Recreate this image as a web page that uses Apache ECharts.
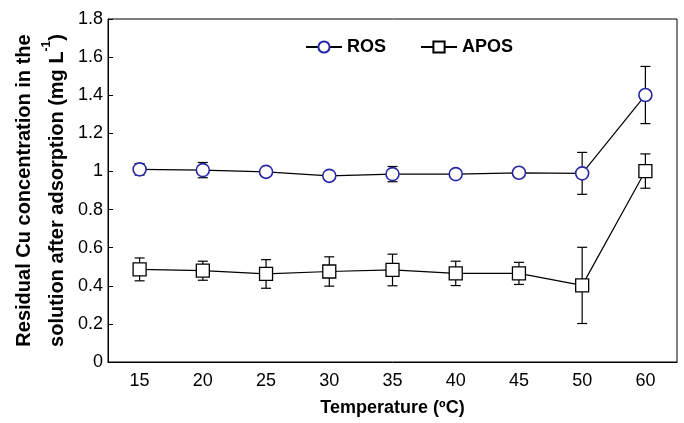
<!DOCTYPE html>
<html>
<head>
<meta charset="utf-8">
<script src="https://cdn.jsdelivr.net/npm/echarts@6/dist/echarts.min.js"></script>
<style>html,body{margin:0;padding:0;background:#fff}#c{width:684px;height:423px}</style>
</head>
<body>
<div id="c"></div>
<script>
const categories = ['15', '20', '25', '30', '35', '40', '45', '50', '60'];
const rosValues = [1.011, 1.007, 0.998, 0.977, 0.986, 0.986, 0.993, 0.99, 1.401];
const rosErrors = [0.03, 0.04, 0.02, 0.01, 0.04, 0.02, 0.02, 0.11, 0.15];
const aposValues = [0.486, 0.479, 0.462, 0.475, 0.483, 0.465, 0.465, 0.402, 1.002];
const aposErrors = [0.06, 0.05, 0.075, 0.077, 0.083, 0.064, 0.058, 0.2, 0.09];
const yTicks = { min: 0, max: 1.8, interval: 0.2 };

const FONT = 'Liberation Sans, Arial, sans-serif';

function errData(vals, errs) {
  return vals.map((v, i) => [i, v - errs[i], v + errs[i]]);
}
function errRender(params, api) {
  const i = api.value(0);
  const lo = api.coord([i, api.value(1)]);
  const hi = api.coord([i, api.value(2)]);
  const w = 5;
  const style = { stroke: '#000', lineWidth: 1.2 };
  return {
    type: 'group',
    children: [
      { type: 'line', shape: { x1: lo[0], y1: lo[1], x2: hi[0], y2: hi[1] }, style },
      { type: 'line', shape: { x1: lo[0] - w, y1: lo[1], x2: lo[0] + w, y2: lo[1] }, style },
      { type: 'line', shape: { x1: hi[0] - w, y1: hi[1], x2: hi[0] + w, y2: hi[1] }, style }
    ]
  };
}

const chart = echarts.init(document.getElementById('c'));
chart.setOption({
  animation: false,
  backgroundColor: '#fff',
  grid: { left: 108, right: 7, top: 19, bottom: 61, show: true, borderColor: '#000', borderWidth: 1, backgroundColor: 'transparent' },
  legend: {
    left: 300, top: 33,
    itemWidth: 36, itemHeight: 14, itemGap: 34,
    data: ['ROS', 'APOS'],
    textStyle: { fontFamily: FONT, fontSize: 18, fontWeight: 'bold', color: '#000' }
  },
  xAxis: {
    type: 'category',
    data: categories,
    boundaryGap: true,
    name: 'Temperature (ºC)',
    nameLocation: 'middle',
    nameGap: 37,
    nameTextStyle: { fontFamily: FONT, fontSize: 18, fontWeight: 'bold', color: '#000' },
    axisLine: { lineStyle: { color: '#000', width: 1 } },
    axisTick: { inside: true, length: 6, interval: 0, lineStyle: { color: '#000' } },
    axisLabel: { fontFamily: FONT, fontSize: 18, color: '#000', margin: 10, interval: 0 },
    splitLine: { show: false }
  },
  yAxis: {
    type: 'value',
    min: yTicks.min, max: yTicks.max, interval: yTicks.interval,
    name: '{a|Residual Cu concentration in the}\n{a|solution after adsorption (mg L}{s|-1}{a|)}',
    nameLocation: 'middle',
    nameRotate: 90,
    nameGap: 33,
    nameTextStyle: {
      rich: {
        a: { fontFamily: FONT, fontSize: 20, fontWeight: 'bold', color: '#000', lineHeight: 33 },
        s: { fontFamily: FONT, fontSize: 12, fontWeight: 'bold', color: '#000', verticalAlign: 'top', lineHeight: 33, padding: [0, 0, 10, 0] }
      }
    },
    axisLine: { show: true, lineStyle: { color: '#000', width: 1 } },
    axisTick: { show: true, inside: true, length: 5, lineStyle: { color: '#000' } },
    axisLabel: { fontFamily: FONT, fontSize: 18, color: '#000', margin: 5 },
    splitLine: { show: false }
  },
  series: [
    {
      type: 'custom', name: 'rosErr', renderItem: errRender, data: errData(rosValues, rosErrors),
      encode: { x: 0, y: [1, 2] }, z: 1, silent: true
    },
    {
      type: 'custom', name: 'aposErr', renderItem: errRender, data: errData(aposValues, aposErrors),
      encode: { x: 0, y: [1, 2] }, z: 1, silent: true
    },
    {
      name: 'ROS', type: 'line', data: rosValues, z: 3,
      symbol: 'circle', symbolSize: 13,
      lineStyle: { color: '#000', width: 1.2 },
      itemStyle: { color: '#fff', borderColor: '#2626a6', borderWidth: 1.6 }
    },
    {
      name: 'APOS', type: 'line', data: aposValues, z: 3,
      symbol: 'rect', symbolSize: 13,
      lineStyle: { color: '#000', width: 1.2 },
      itemStyle: { color: '#fff', borderColor: '#000', borderWidth: 1.3 }
    }
  ]
});
</script>
</body>
</html>
